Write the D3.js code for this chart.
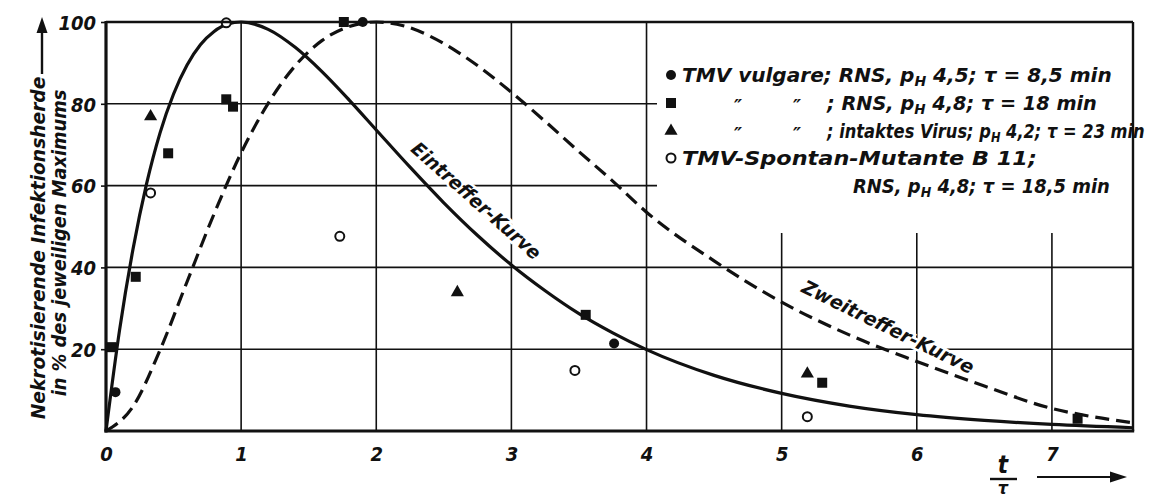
<!DOCTYPE html>
<html><head><meta charset="utf-8">
<script src="https://cdn.jsdelivr.net/npm/d3@7"></script>
<style>
html,body{margin:0;padding:0;background:#fff;}
svg text{font-family:"Liberation Sans Narrow","DejaVu Sans Condensed","DejaVu Sans",sans-serif;font-stretch:condensed;font-weight:bold;font-style:italic;fill:#111;}
</style></head><body><svg id="c" width="1154" height="500"></svg>
<script>
// ---- data ----
const xTicks = [0, 1, 2, 3, 4, 5, 6, 7];
const yTicks = [20, 40, 60, 80, 100];

// Eintreffer-Kurve (one-hit curve)
const oneHitT = [0,0.1,0.2,0.3,0.4,0.5,0.6,0.7,0.8,0.9,1.0,1.2,1.4,1.6,1.8,2.0,2.25,2.5,2.75,3.0,3.25,3.5,3.75,4.0,4.5,5.0,5.5,6.0,6.5,7.0,7.6];
const oneHitY = [0,24.6,44.5,60.4,72.9,82.4,89.5,94.5,97.7,99.5,100,98.2,93.8,87.8,80.9,73.6,64.5,55.8,47.8,40.6,34.3,28.7,24.0,19.9,13.6,9.2,6.1,4.0,2.6,1.6,0.8];

// Zweitreffer-Kurve (two-hit curve)
const twoHitT = [0,0.2,0.4,0.6,0.8,1.0,1.2,1.4,1.6,1.8,2.0,2.2,2.4,2.6,2.8,3.0,3.25,3.5,3.75,4.0,4.5,5.0,5.5,6.0,6.5,7.0,7.3,7.6];
const twoHitY = [0,6.0,19.8,36.5,53.1,68.0,80.1,89.3,95.5,98.9,100,99.1,96.5,92.7,88.1,82.8,75.7,68.3,61.1,53.5,41.6,31.5,23.5,17.0,11.0,5.5,3.5,2.0];

// measured points
const vulgareT = [0.07, 1.90, 3.76];
const vulgareY = [9.5, 100, 21.4];
const rns18T = [0.04, 0.22, 0.46, 0.89, 0.94, 1.76, 3.55, 5.30, 7.19];
const rns18Y = [20.5, 37.7, 67.9, 81.1, 79.3, 100, 28.4, 11.8, 3.0];
const intactT = [0.33, 2.60, 5.19];
const intactY = [76.9, 33.9, 14.0];
const b11T = [0.33, 0.89, 1.73, 3.47, 5.19];
const b11Y = [58.2, 99.8, 47.6, 14.8, 3.5];

const legendTexts = [
  "TMV vulgare; RNS, pH 4,5; τ = 8,5 min",
  "; RNS, pH 4,8; τ = 18 min",
  "; intaktes Virus; pH 4,2; τ = 23 min",
  "TMV-Spontan-Mutante  B 11;",
  "RNS, pH 4,8; τ = 18,5 min"
];
const yTitle = ["Nekrotisierende Infektionsherde", "in % des jeweiligen Maximums"];
const curveNames = ["Eintreffer-Kurve", "Zweitreffer-Kurve"];

// ---- drawing ----
const ink = "#111";
const svg = d3.select("#c");
const x = d3.scaleLinear().domain([0, 7.6]).range([106, 1133]);
const y = d3.scaleLinear().domain([0, 100]).range([431, 22]);
const legendTopY = 233;   // grid lines under the legend are left out
const legendLeftX = 657;

// fit a text horizontally to a given width with a scale transform (condensed look)
function fitText(sel, px, py, width, rot) {
  const w = sel.node().getComputedTextLength();
  const k = width / w;
  sel.attr("x", 0).attr("y", 0)
     .attr("transform", `translate(${px},${py})` + (rot ? ` rotate(${rot})` : "") + ` scale(${k},1)`);
  return sel;
}

// grid
svg.append("g").selectAll("line").data(xTicks.filter(d => d > 0)).join("line")
  .attr("x1", d => x(d)).attr("x2", d => x(d))
  .attr("y1", y(0)).attr("y2", d => d >= 5 ? legendTopY : y(100))
  .attr("stroke", ink).attr("stroke-width", 1.6);
svg.append("g").selectAll("line").data(yTicks.filter(d => d < 100)).join("line")
  .attr("x1", x(0)).attr("x2", d => d >= 60 ? legendLeftX : x(7.6))
  .attr("y1", d => y(d)).attr("y2", d => y(d))
  .attr("stroke", ink).attr("stroke-width", 1.6);

// helper for subscript pH
function richText(sel, str) {
  const parts = str.split("pH");
  let shift = 0;
  parts.forEach((p, i) => {
    const ts = sel.append("tspan").text(p);
    if (shift) { ts.attr("dy", -shift); shift = 0; }
    if (i < parts.length - 1) {
      sel.append("tspan").text("p");
      sel.append("tspan").text("H").attr("dy", 4).attr("font-size", "0.7em");
      shift = 4;
    }
  });
  return sel;
}

// curve labels (with white halo hiding gridlines)
function curveLabel(txt, cx, cy, ang, len) {
  const t = svg.append("text")
    .attr("text-anchor", "middle").attr("dominant-baseline", "central")
    .attr("font-size", 19)
    .attr("stroke", "#fff").attr("stroke-width", 5).attr("paint-order", "stroke")
    .text(txt);
  fitText(t, cx, cy, len, ang);
}
curveLabel(curveNames[0], 476, 201, 41.6, 166);
curveLabel(curveNames[1], 888, 327, 26, 189);

// curves
const line = d3.line().x(d => x(d[0])).y(d => y(d[1])).curve(d3.curveMonotoneX);
svg.append("path").datum(oneHitT.map((t, i) => [t, oneHitY[i]]))
  .attr("d", line).attr("fill", "none").attr("stroke", ink).attr("stroke-width", 3.2);
svg.append("path").datum(twoHitT.map((t, i) => [t, twoHitY[i]]))
  .attr("d", line).attr("fill", "none").attr("stroke", ink).attr("stroke-width", 3.2)
  .attr("stroke-dasharray", "14,7");

// markers
function drawMarker(g, kind, px, py) {
  if (kind === "dot") g.append("circle").attr("cx", px).attr("cy", py).attr("r", 5).attr("fill", ink);
  if (kind === "square") g.append("rect").attr("x", px - 5).attr("y", py - 5).attr("width", 10).attr("height", 10).attr("fill", ink);
  if (kind === "tri") g.append("path").attr("d", d3.symbol(d3.symbolTriangle).size(75)()).attr("transform", `translate(${px},${py})`).attr("fill", ink);
  if (kind === "ring") g.append("circle").attr("cx", px).attr("cy", py).attr("r", 4.5).attr("fill", "#fff").attr("stroke", ink).attr("stroke-width", 2);
}
const mg = svg.append("g");
vulgareT.forEach((t, i) => drawMarker(mg, "dot", x(t), y(vulgareY[i])));
rns18T.forEach((t, i) => drawMarker(mg, "square", x(t), y(rns18Y[i])));
intactT.forEach((t, i) => drawMarker(mg, "tri", x(t), y(intactY[i])));
b11T.forEach((t, i) => drawMarker(mg, "ring", x(t), y(b11Y[i])));

// frame
svg.append("line").attr("x1", x(0)).attr("x2", x(7.6)).attr("y1", y(100)).attr("y2", y(100)).attr("stroke", ink).attr("stroke-width", 2.4);
svg.append("line").attr("x1", x(7.6)).attr("x2", x(7.6)).attr("y1", y(100)).attr("y2", y(0)).attr("stroke", ink).attr("stroke-width", 2.4);
svg.append("line").attr("x1", x(0)).attr("x2", x(0)).attr("y1", y(100) - 1).attr("y2", y(0) + 1.5).attr("stroke", ink).attr("stroke-width", 3.2);
svg.append("line").attr("x1", x(0) - 1.5).attr("x2", x(7.6) + 1.2).attr("y1", y(0)).attr("y2", y(0)).attr("stroke", ink).attr("stroke-width", 3.2);

// axes
const gx = svg.append("g").attr("transform", `translate(0,${y(0)})`)
  .call(d3.axisBottom(x).tickValues(xTicks).tickSize(0).tickPadding(16).tickFormat(d3.format("d")));
gx.select(".domain").remove();
gx.selectAll("text").attr("font-size", 20);
const gy = svg.append("g").attr("transform", `translate(${x(0)},0)`)
  .call(d3.axisLeft(y).tickValues(yTicks).tickSize(5).tickPadding(5).tickFormat(d3.format("d")));
gy.select(".domain").remove();
gy.selectAll("line").attr("stroke", ink).attr("stroke-width", 1.6);
gy.selectAll("text").attr("font-size", 20).attr("dy", "0.36em");
[gx, gy].forEach(g => g.attr("font-family", null).attr("font-size", null));

// y title
const yt1 = svg.append("text").attr("text-anchor", "middle").attr("dominant-baseline", "central")
  .attr("font-size", 20).text(yTitle[0]);
fitText(yt1, 38, 248, 343, -90);
const yt2 = svg.append("text").attr("text-anchor", "middle").attr("dominant-baseline", "central")
  .attr("font-size", 20).text(yTitle[1]);
fitText(yt2, 59, 243, 307, -90);
svg.append("line").attr("x1", 42).attr("x2", 42).attr("y1", 74).attr("y2", 30).attr("stroke", ink).attr("stroke-width", 2.4);
svg.append("path").attr("d", "M42,17 L36.5,33 L47.5,33 Z").attr("fill", ink);

// x title t / tau with arrow
svg.append("text").attr("x", 1003).attr("y", 473).attr("text-anchor", "middle").attr("font-size", 24).text("t");
svg.append("line").attr("x1", 990).attr("x2", 1017).attr("y1", 479).attr("y2", 479).attr("stroke", ink).attr("stroke-width", 2.4);
svg.append("text").attr("x", 1003).attr("y", 494).attr("text-anchor", "middle").attr("font-size", 18).text("τ");
svg.append("line").attr("x1", 1037).attr("x2", 1113).attr("y1", 477).attr("y2", 477).attr("stroke", ink).attr("stroke-width", 2.2);
svg.append("path").attr("d", "M1127,477 L1110,471.5 L1110,482.5 Z").attr("fill", ink);

// legend
const lg = svg.append("g");
const rowY = [75, 103, 131, 158, 186];
const kinds = ["dot", "square", "tri", "ring"];
kinds.forEach((k, i) => drawMarker(lg, k, 671, rowY[i]));
const legendX = [682, 827, 827, 682, 853];
const legendLen = [430, 270, 318, 355, 257];
legendTexts.forEach((t, i) => {
  const tx = lg.append("text").attr("font-size", 20);
  richText(tx, t);
  fitText(tx, legendX[i], rowY[i] + 7, legendLen[i], 0);
});
[1, 2].forEach(i => {
  [738, 797].forEach(dx => lg.append("text").attr("x", dx).attr("y", rowY[i] + 10)
    .attr("font-size", 20).attr("text-anchor", "middle").text("\u2033"));
});
</script></body></html>
